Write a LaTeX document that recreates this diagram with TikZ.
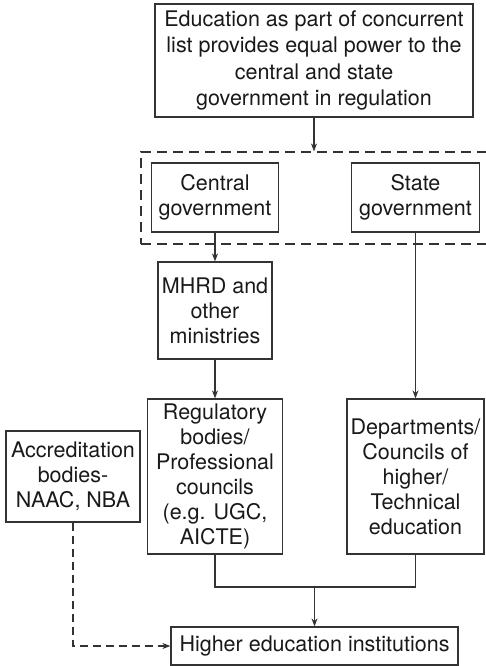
\documentclass[tikz,border=0pt]{standalone}
\usepackage{fontspec}
\setmainfont{TeX Gyre Heros}
\usetikzlibrary{arrows.meta}

\begin{document}
\begin{tikzpicture}[x=1pt,y=1pt,line width=1.2pt,>={Stealth[length=8pt,width=6pt]},
  box/.style={draw=black!80,inner sep=0pt,align=center,text=black!90,
    font=\fontsize{21.5}{25}\selectfont},
  link/.style={->,draw=black!80}]
\useasboundingbox (0,0) rectangle (486,-666);
% ================= top statement =================
\node[box,minimum width=318pt,minimum height=113pt,font=\fontsize{21.5}{26.5}\selectfont]
  (edu) at (314,-60.5) {Education as part of concurrent\\list provides equal power to the\\central and state\\government in regulation};
% ================= governments (dashed group) =================
\node[draw=black!80,dash pattern=on 10pt off 6pt,inner sep=0pt,
  minimum width=351pt,minimum height=92pt] (gov) at (316.5,-198) {};
\node[box,minimum width=127pt,minimum height=69pt] (central) at (215,-197.5) {Central\\government};
\node[box,minimum width=128pt,minimum height=69pt] (state) at (415.5,-197.5) {State\\government};
% ================= bodies =================
\node[box,minimum width=114pt,minimum height=97pt] (mhrd) at (215,-310.5) {MHRD and\\other\\ministries};
\node[box,minimum width=135pt,minimum height=155pt] (reg) at (215,-476.5) {Regulatory\\bodies/\\Professional\\councils\\(e.g. UGC,\\AICTE)};
\node[box,minimum width=137pt,minimum height=155pt] (dept) at (415.5,-476.5) {Departments/\\Councils of\\higher/\\Technical\\education};
\node[box,minimum width=134pt,minimum height=91pt] (accr) at (73,-476.5) {Accreditation\\bodies-\\NAAC, NBA};
\node[box,minimum width=287pt,minimum height=38pt] (hei) at (314.5,-646) {Higher education institutions};
% ================= connectors =================
\draw[link] (edu.south) -- (edu.south |- gov.north);
\draw[link] (central.south) -- (mhrd.north);
\draw[link] (mhrd.south) -- (reg.north);
\draw[link] (state.south) -- (dept.north);
\coordinate (join) at (314.5,-587);
\draw[draw=black!80] (reg.south) |- (join) -| (dept.south);
\draw[link] (join) -- (hei.north);
\draw[link,dash pattern=on 8pt off 5pt] (accr.south) |- (hei.west);
\end{tikzpicture}
\end{document}
